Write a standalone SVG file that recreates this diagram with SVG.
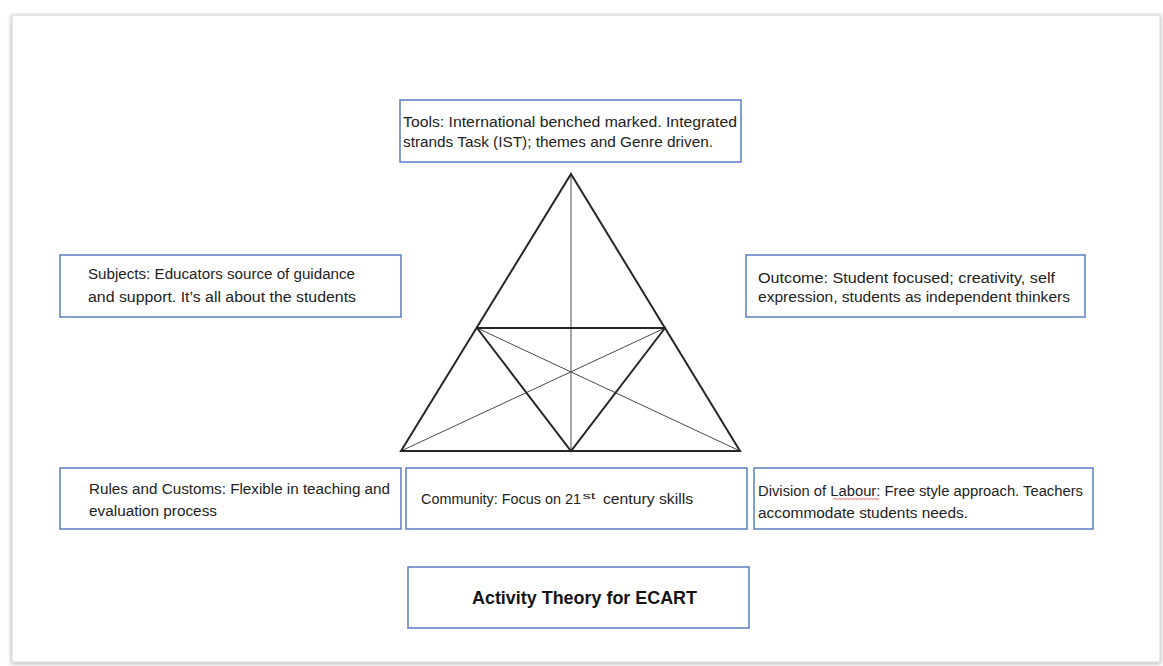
<svg xmlns="http://www.w3.org/2000/svg" width="1163" height="666" viewBox="0 0 1163 666">
  <defs>
    <filter id="shadow" x="-5%" y="-5%" width="110%" height="110%">
      <feGaussianBlur in="SourceAlpha" stdDeviation="2"/>
      <feOffset dx="0" dy="1"/>
      <feComponentTransfer><feFuncA type="linear" slope="0.35"/></feComponentTransfer>
      <feMerge><feMergeNode/><feMergeNode in="SourceGraphic"/></feMerge>
    </filter>
    <style>
      .box { fill: #ffffff; stroke: #5a7dc0; stroke-width: 1.5; }
      .t { font-family: "Liberation Sans", Arial, sans-serif; font-size: 14px; fill: #222222; }
      .sup { font-family: "Liberation Sans", Arial, sans-serif; font-size: 9px; fill: #222222; }
      .title { font-family: "Liberation Sans", Arial, sans-serif; font-size: 17.5px; font-weight: bold; fill: #141414; }
      .thick { stroke: #262626; stroke-width: 2; fill: none; stroke-linecap: round; }
      .thin { stroke: #4a4a4a; stroke-width: 1; fill: none; }
      .vert { stroke: #8a8a8a; stroke-width: 1.5; fill: none; }
    </style>
  </defs>

  <rect x="0" y="0" width="1163" height="666" fill="#ffffff"/>
  <rect x="12" y="15" width="1148" height="647" fill="#ffffff" stroke="#d4d4d4" stroke-width="1" filter="url(#shadow)"/>

  <g id="connectors">
    <line class="vert" x1="571" y1="174" x2="571" y2="451"/>
    <line class="thin" x1="477" y1="328" x2="740" y2="451"/>
    <line class="thin" x1="665" y1="328" x2="401" y2="451"/>
    <polygon class="thick" points="571,174 740,451 401,451"/>
    <line class="thick" x1="477" y1="328" x2="665" y2="328"/>
    <polyline class="thick" points="477,328 571,451 665,328"/>
  </g>

  <g id="tools">
    <rect class="box" x="400" y="100" width="341" height="62"/>
    <text class="t" x="403" y="127" textLength="334" lengthAdjust="spacingAndGlyphs">Tools: International benched marked. Integrated</text>
    <text class="t" x="403" y="147" textLength="310" lengthAdjust="spacingAndGlyphs">strands Task (IST); themes and Genre driven.</text>
  </g>

  <g id="subjects">
    <rect class="box" x="60" y="255" width="341" height="62"/>
    <text class="t" x="88" y="278.5" textLength="267" lengthAdjust="spacingAndGlyphs">Subjects: Educators source of guidance</text>
    <text class="t" x="88" y="301.5" textLength="268" lengthAdjust="spacingAndGlyphs">and support. It’s all about the students</text>
  </g>

  <g id="outcome">
    <rect class="box" x="746" y="255" width="339" height="62"/>
    <text class="t" x="758" y="282.5" textLength="297" lengthAdjust="spacingAndGlyphs">Outcome: Student focused; creativity, self</text>
    <text class="t" x="758" y="302" textLength="312" lengthAdjust="spacingAndGlyphs">expression, students as independent thinkers</text>
  </g>

  <g id="rules">
    <rect class="box" x="60" y="468" width="341" height="61"/>
    <text class="t" x="89" y="494" textLength="301" lengthAdjust="spacingAndGlyphs">Rules and Customs: Flexible in teaching and</text>
    <text class="t" x="89" y="516" textLength="128" lengthAdjust="spacingAndGlyphs">evaluation process</text>
  </g>

  <g id="community">
    <rect class="box" x="406" y="468" width="341" height="61"/>
    <text class="t" x="421" y="503.5" textLength="160" lengthAdjust="spacingAndGlyphs">Community: Focus on 21</text>
    <text class="sup" x="582.5" y="498.5" textLength="13" lengthAdjust="spacingAndGlyphs">st</text>
    <text class="t" x="603" y="503.5" textLength="90" lengthAdjust="spacingAndGlyphs">century skills</text>
  </g>

  <g id="division">
    <rect class="box" x="754" y="468" width="339" height="61"/>
    <text class="t" x="758" y="496" textLength="325" lengthAdjust="spacingAndGlyphs">Division of Labour: Free style approach. Teachers</text>
    <text class="t" x="758" y="518" textLength="210" lengthAdjust="spacingAndGlyphs">accommodate students needs.</text>
    <path d="M833,499.5 l2,-1 l2,1 l2,-1 l2,1 l2,-1 l2,1 l2,-1 l2,1 l2,-1 l2,1 l2,-1 l2,1 l2,-1 l2,1 l2,-1 l2,1 l2,-1 l2,1 l2,-1 l2,1 l2,-1 l2,1 l2,-1" fill="none" stroke="#e05050" stroke-width="0.8"/>
  </g>

  <g id="title">
    <rect class="box" x="408" y="567" width="341" height="61"/>
    <text class="title" x="472" y="603.5" textLength="225" lengthAdjust="spacingAndGlyphs">Activity Theory for ECART</text>
  </g>
</svg>
